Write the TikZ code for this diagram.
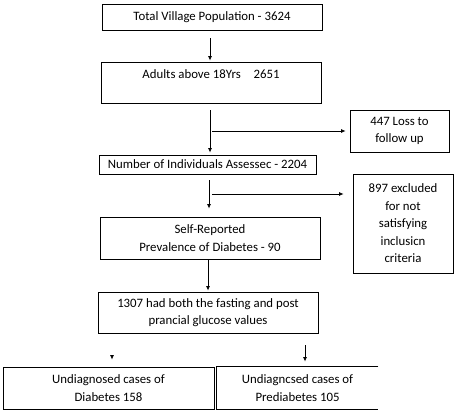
\documentclass[tikz,border=0pt]{standalone}
\usepackage{fontspec}
\setmainfont{Carlito}
\usetikzlibrary{arrows.meta,calc}

\tikzset{
  flowbox/.style={draw,line width=0.8pt,inner sep=0pt,align=center,
    font=\fontsize{12.8}{17.5}\selectfont},
  arr/.style={line width=0.8pt,-{Latex[length=4.5pt,width=4pt]}}
}

\begin{document}
\begin{tikzpicture}[x=1pt,y=-1pt]
  \useasboundingbox (0,0) rectangle (457,414);
  % main column
  \node[flowbox,minimum width=220pt,minimum height=26pt] (pop) at (212,17) {Total Village Population - 3624};
  \node[flowbox,minimum width=220pt,minimum height=41pt] (adults) at (211,82.5) {Adults above 18Yrs\quad 2651\\ \mbox{}};
  \node[flowbox,minimum width=217pt,minimum height=19pt] (assessed) at (207.5,164.5) {Number of Individuals Assessec - 2204};
  \node[flowbox,minimum width=220pt,minimum height=42pt] (selfrep) at (210,238) {Self-Reported\\Prevalence of Diabetes - 90};
  \node[flowbox,minimum width=220pt,minimum height=41pt] (glucose) at (208,312.5) {1307 had both the fasting and post\\prancial glucose values};
  % side boxes
  \node[flowbox,minimum width=99pt,minimum height=42pt] (loss) at (399.5,131) {447 Loss to\\follow up};
  \node[flowbox,minimum width=100pt,minimum height=99pt] (excluded) at (403,223.5) {897 excluded\\for not\\satisfying\\inclusicn\\criteria};
  % bottom row
  \node[flowbox,minimum width=211pt,minimum height=42pt] (diab) at (108.5,388) {Undiagnosed cases of\\Diabetes 158};
  \node[flowbox,draw=none,minimum width=161pt,minimum height=42pt] (prediab) at (297.5,388) {Undiagncsed cases of\\Prediabetes 105};
  \draw[line width=0.8pt] (prediab.north east) -- (prediab.north west) -- (prediab.south west) -- (prediab.south east);

  % connectors
  \draw[arr,shorten <=8pt,shorten >=1pt] (pop.south -| 210,0) -- (adults.north -| 210,0);
  \draw[arr,shorten <=7pt,shorten >=2pt] (adults.south -| 210,0) -- (assessed.north -| 210,0);
  \coordinate (b1) at (212,131);
  \draw[arr,shorten >=4pt] (b1) -- (loss.west);
  \draw[arr,shorten <=6pt,shorten >=8pt] (assessed.south -| 209,0) -- (selfrep.north -| 209,0);
  \coordinate (b2) at (212,194);
  \draw[arr,shorten >=9pt] (b2) -- (b2 -| excluded.west);
  \draw[arr,shorten <=1pt,shorten >=1pt] (selfrep.south -| 208,0) -- (glucose.north -| 208,0);
  \coordinate (b3) at (305,345);
  \draw[arr,shorten >=5pt] (b3) -- (b3 |- prediab.north);
  \coordinate (b4) at (112,355);
  \draw[arr,shorten >=7pt] (b4) -- (b4 |- diab.north);
\end{tikzpicture}
\end{document}
